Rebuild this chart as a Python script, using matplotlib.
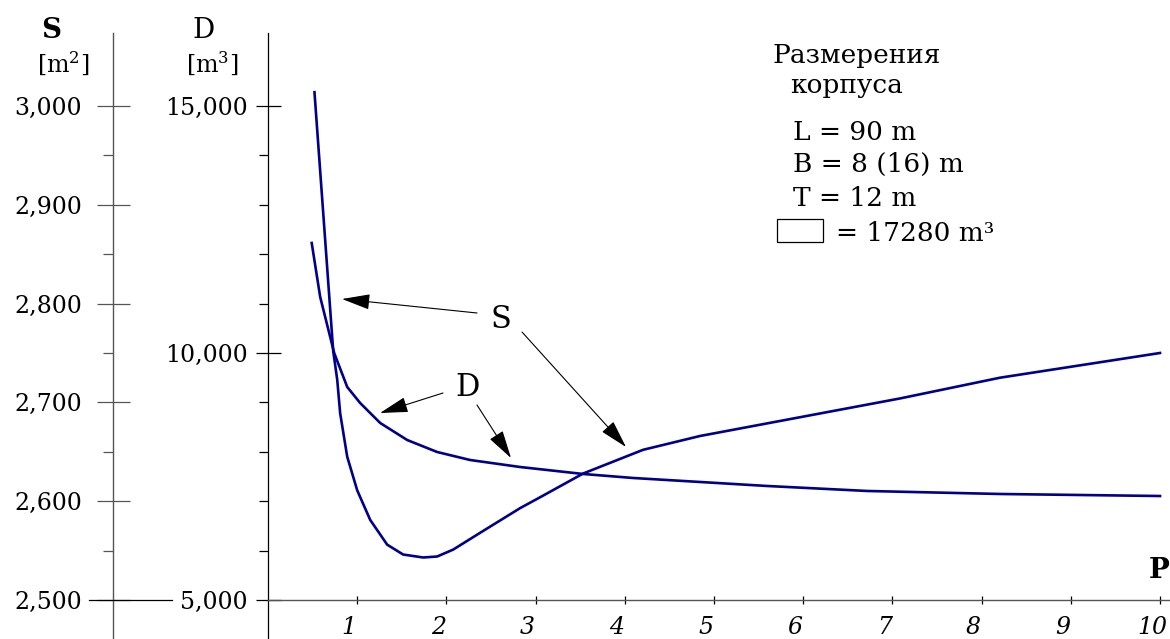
import matplotlib
matplotlib.use("Agg")
import matplotlib.pyplot as plt
from matplotlib.ticker import FixedLocator, FuncFormatter
from matplotlib.transforms import ScaledTranslation
from matplotlib.patches import Rectangle, FancyArrowPatch

# ---------------- data ----------------
s_x = [0.521, 0.731, 0.776, 0.809, 0.888, 1.000, 1.146, 1.336, 1.515, 1.740, 1.896,
       2.076, 2.378, 2.827, 3.051, 3.533, 4.205, 4.844, 5.965, 7.086, 8.207, 10.0]
s_y = [3014, 2752, 2723, 2689, 2645, 2611, 2581, 2556, 2546, 2543, 2544,
       2551, 2568, 2593, 2604, 2628, 2652, 2666, 2685, 2704, 2725, 2750]

d_x = [0.490, 0.585, 0.742, 0.888, 1.033, 1.258, 1.560, 1.896, 2.266, 2.827, 3.533,
       4.093, 4.844, 5.595, 6.716, 8.207, 10.0]
d_y = [12227, 11134, 10000, 9312, 8988, 8583, 8239, 7996, 7834, 7692, 7551,
       7470, 7389, 7308, 7207, 7146, 7105]

x_ticks = [1, 2, 3, 4, 5, 6, 7, 8, 9, 10]
s_major = [2500, 2600, 2700, 2800, 2900, 3000]
s_minor = [2550, 2650, 2750, 2850, 2950]
d_major = [5000, 10000, 15000]
d_minor = [6000, 7000, 8000, 9000, 11000, 12000, 13000, 14000]

legend_lines = ["L = 90 m", "B = 8 (16) m", "T = 12 m"]

# ---------------- style ----------------
plt.rcParams['font.family'] = ['DejaVu Serif']
plt.rcParams['mathtext.fontset'] = 'dejavuserif'

W, H = 1170, 639
fig = plt.figure(figsize=(W / 100, H / 100), dpi=100)

def fx(px):
    return px / W

def fy(py):
    return 1 - py / H

PT = 0.72  # points per pixel at dpi 100
line_col = '#00008B'
grey = '#555555'

# main axes (D)
ax = fig.add_axes([fx(268), 0, (W - 268) / W, (H - 33) / H])
ax.set_xlim(0, 10.112)
ax.set_ylim(4210.5, 16477.7)
ax.patch.set_visible(False)
for sp in ['top', 'right']:
    ax.spines[sp].set_visible(False)
ax.spines['left'].set_color('black')
ax.spines['left'].set_linewidth(0.9)
ax.spines['bottom'].set_position(('data', 5000))
ax.spines['bottom'].set_color(grey)
ax.spines['bottom'].set_linewidth(1.0)

ax.xaxis.set_major_locator(FixedLocator(x_ticks))
ax.set_xticklabels([str(v) for v in x_ticks], fontsize=17, style='italic')
ax.tick_params(axis='x', direction='inout', length=8 * PT, width=0.9, color='black', pad=9)
for lab in ax.get_xticklabels():
    lab.set_transform(lab.get_transform() + ScaledTranslation(-8 / 100, 0, fig.dpi_scale_trans))

ax.yaxis.set_major_locator(FixedLocator(d_major))
ax.yaxis.set_minor_locator(FixedLocator(d_minor))
ax.yaxis.set_major_formatter(FuncFormatter(lambda v, p: f"{int(v):,}"))
ax.tick_params(axis='y', which='major', direction='inout', length=25 * PT, width=0.9,
               color='black', pad=7.5 * PT, labelsize=17)
ax.tick_params(axis='y', which='minor', direction='out', length=9 * PT, width=0.9, color='black')

ax.plot(d_x, d_y, color=line_col, lw=1.9, solid_joinstyle='round')

# S axis
ax2 = ax.twinx()
ax2.set_ylim(2460.5, 3073.9)
for sp in ['top', 'right', 'bottom']:
    ax2.spines[sp].set_visible(False)
ax2.spines['left'].set_visible(True)
ax2.spines['left'].set_position(('axes', (113 - 268) / (W - 268)))
ax2.spines['left'].set_color(grey)
ax2.spines['left'].set_linewidth(1.0)
ax2.yaxis.set_ticks_position('left')
ax2.yaxis.set_label_position('left')
ax2.yaxis.set_major_locator(FixedLocator(s_major))
ax2.yaxis.set_minor_locator(FixedLocator(s_minor))
ax2.yaxis.set_major_formatter(FuncFormatter(lambda v, p: f"{int(v):,}"))
ax2.tick_params(axis='y', which='major', direction='inout', length=33 * PT, width=0.9,
                color=grey, pad=14.3 * PT, labelsize=17)
ax2.tick_params(axis='y', which='minor', direction='out', length=10 * PT, width=0.9, color=grey)

ax2.plot(s_x, s_y, color=line_col, lw=1.9, solid_joinstyle='round')

# long base line at 2500 on the S axis
fig.add_artist(plt.Line2D([fx(89), fx(172)], [fy(600), fy(600)], color='black', lw=0.9))

# axis titles
fig.text(fx(51), fy(30), "S", fontsize=20, fontweight='bold', ha='center', va='center')
fig.text(fx(63), fy(64), r"[m$^2$]", fontsize=17, ha='center', va='center')
fig.text(fx(204), fy(30), "D", fontsize=20, ha='center', va='center')
fig.text(fx(212), fy(64), r"[m$^3$]", fontsize=17, ha='center', va='center')
fig.text(fx(1149), fy(571), "P", fontsize=20, fontweight='bold', ha='left', va='center')

# legend block
fig.text(fx(773), fy(63), "Размерения", fontsize=19, ha='left', va='baseline')
fig.text(fx(790), fy(93), "корпуса", fontsize=19, ha='left', va='baseline')
for txt, yb in zip(legend_lines, [140, 172, 206]):
    fig.text(fx(793), fy(yb), txt, fontsize=19, ha='left', va='baseline')
fig.add_artist(Rectangle((fx(777), fy(242)), fx(823) - fx(777), fy(219) - fy(242),
                         transform=fig.transFigure, fill=False, lw=0.9, edgecolor='black'))
fig.text(fx(836), fy(241), "= 17280 m³", fontsize=19, ha='left', va='baseline')

# annotations
aprops = dict(arrowstyle='-|>,head_length=0.8,head_width=0.22', mutation_scale=22,
              lw=0.8, color='black', shrinkA=0, shrinkB=0)
fig.text(fx(501), fy(319), "S", fontsize=22, ha='center', va='center')
fig.text(fx(467), fy(387), "D", fontsize=22, ha='center', va='center')
for tail, head in [((477, 313), (342, 299)), ((522, 332), (626, 447)),
                   ((443, 393), (380, 413)), ((477, 405), (511, 458))]:
    fig.add_artist(FancyArrowPatch(
        (fx(tail[0]), fy(tail[1])), (fx(head[0]), fy(head[1])),
        transform=fig.transFigure, **aprops))

fig.savefig("out.png", dpi=100)
